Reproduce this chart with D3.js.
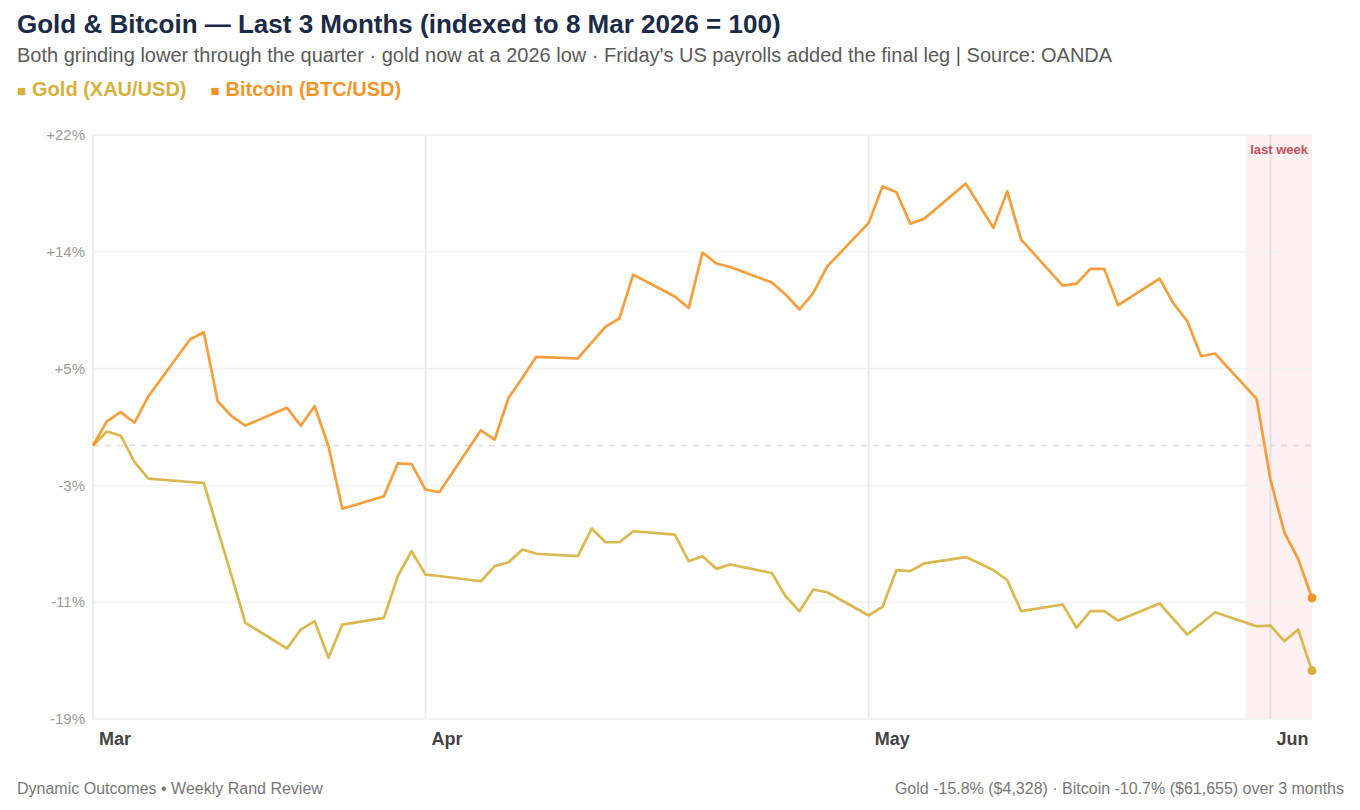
<!DOCTYPE html>
<html>
  <head>
    <meta charset="utf-8" />
    <title>Gold &amp; Bitcoin — Last 3 Months</title>
    <style>
      body {
        margin: 0;
        background: #fff;
        font-family: "Liberation Sans", Arial, Helvetica, sans-serif;
      }
      .line {
        fill: none;
        stroke-width: 2.7px;
        stroke-linejoin: round;
      }
      .grid line {
        stroke: #f1f1f1;
        stroke-width: 1.5px;
      }
      .ytick {
        font-size: 15px;
        fill: #9a9a9a;
      }
      .xtick {
        font-size: 18px;
        font-weight: bold;
        fill: #444;
      }
    </style>
  </head>
  <body>
    <svg id="chart"></svg>

    <script src="https://d3js.org/d3.v7.min.js"></script>
    <script>
      // trading days (as stamped in the feed: Sun-Thu)
      const dates = [
        "2026-03-08", "2026-03-09", "2026-03-10", "2026-03-11", "2026-03-12",
        "2026-03-15", "2026-03-16", "2026-03-17", "2026-03-18", "2026-03-19",
        "2026-03-22", "2026-03-23", "2026-03-24", "2026-03-25", "2026-03-26",
        "2026-03-29", "2026-03-30", "2026-03-31", "2026-04-01", "2026-04-02",
        "2026-04-05", "2026-04-06", "2026-04-07", "2026-04-08", "2026-04-09",
        "2026-04-12", "2026-04-13", "2026-04-14", "2026-04-15", "2026-04-16",
        "2026-04-19", "2026-04-20", "2026-04-21", "2026-04-22", "2026-04-23",
        "2026-04-26", "2026-04-27", "2026-04-28", "2026-04-29", "2026-04-30",
        "2026-05-03", "2026-05-04", "2026-05-05", "2026-05-06", "2026-05-07",
        "2026-05-10", "2026-05-11", "2026-05-12", "2026-05-13", "2026-05-14",
        "2026-05-17", "2026-05-18", "2026-05-19", "2026-05-20", "2026-05-21",
        "2026-05-24", "2026-05-25", "2026-05-26", "2026-05-27", "2026-05-28",
        "2026-05-31", "2026-06-01", "2026-06-02", "2026-06-03", "2026-06-04",
      ];

      // % change vs 8 Mar 2026
      const goldPct = [
        0, 0.98, 0.7, -1.16, -2.32,
        -2.56, -2.62, -5.9, -9.13, -12.45,
        -14.25, -12.92, -12.33, -14.9, -12.57,
        -12.1, -9.18, -7.42, -9.06, -9.16,
        -9.53, -8.47, -8.19, -7.3, -7.6,
        -7.77, -5.83, -6.79, -6.79, -6.02,
        -6.25, -8.12, -7.77, -8.66, -8.35,
        -8.95, -10.58, -11.63, -10.11, -10.3,
        -11.93, -11.32, -8.75, -8.82, -8.28,
        -7.83, -8.26, -8.75, -9.46, -11.63,
        -11.16, -12.8, -11.63, -11.63, -12.29,
        -11.09, -12.18, -13.27, -12.5, -11.7,
        -12.69, -12.64, -13.74, -12.92, -15.8,
      ];

      const btcPct = [
        0, 1.7, 2.34, 1.6, 3.46,
        7.44, 7.95, 3.11, 2.06, 1.4,
        2.65, 1.4, 2.76, -0.05, -4.44,
        -3.56, -1.26, -1.31, -3.09, -3.28,
        1.07, 0.42, 3.35, 4.76, 6.23,
        6.11, 7.23, 8.35, 8.92, 12.0,
        10.46, 9.65, 13.55, 12.78, 12.53,
        11.44, 10.6, 9.55, 10.72, 12.57,
        15.63, 18.2, 17.78, 15.58, 15.91,
        18.39, 16.85, 15.28, 17.85, 14.46,
        11.23, 11.37, 12.4, 12.4, 9.85,
        11.72, 9.97, 8.73, 6.27, 6.46,
        3.28, -2.39, -6.09, -7.96, -10.7,
      ];

      const yDomain = [-19.2, 21.8];
      const lastWeekStart = "2026-05-30T05:00";

      const seriesList = [
        { name: "Gold (XAU/USD)", values: goldPct, color: "#d4b03c" },
        { name: "Bitcoin (BTC/USD)", values: btcPct, color: "#f59426" },
      ];

      const width = 1360;
      const height = 810;
      const margin = { top: 135, right: 48, bottom: 91, left: 93 };
      const innerWidth = width - margin.left - margin.right;
      const innerHeight = height - margin.top - margin.bottom;

      const parseDate = d3.timeParse("%Y-%m-%d");
      const parseStamp = d3.timeParse("%Y-%m-%dT%H:%M");
      const days = dates.map(parseDate);

      const xScale = d3
        .scaleTime()
        .domain(d3.extent(days))
        .range([0, innerWidth]);

      const yScale = d3.scaleLinear().domain(yDomain).range([innerHeight, 0]);

      const svg = d3
        .select("#chart")
        .attr("width", width)
        .attr("height", height);

      // header
      svg
        .append("text")
        .attr("x", 17)
        .attr("y", 33)
        .style("font-size", "26px")
        .style("font-weight", "bold")
        .style("fill", "#1b2a47")
        .text("Gold & Bitcoin — Last 3 Months (indexed to 8 Mar 2026 = 100)");

      svg
        .append("text")
        .attr("x", 17)
        .attr("y", 62)
        .style("font-size", "20px")
        .style("fill", "#5a5a5a")
        .text(
          "Both grinding lower through the quarter · gold now at a 2026 low · Friday's US payrolls added the final leg | Source: OANDA"
        );

      const legend = svg.append("g");
      let lx = 17;
      seriesList.forEach((s) => {
        const t = legend
          .append("text")
          .attr("x", lx)
          .attr("y", 96)
          .style("font-size", "20px")
          .style("font-weight", "bold")
          .style("fill", s.color);
        t.append("tspan").style("font-size", "15px").text("■");
        t.append("tspan").attr("dx", 6).text(s.name);
        lx += t.node().getComputedTextLength() + 30;
      });

      const chart = svg
        .append("g")
        .attr("transform", `translate(${margin.left},${margin.top})`);

      // last-week shading
      const shadeX = xScale(parseStamp(lastWeekStart));
      chart
        .append("rect")
        .attr("x", shadeX)
        .attr("y", 0)
        .attr("width", innerWidth - shadeX)
        .attr("height", innerHeight)
        .style("fill", "#fcecee")
        .style("opacity", 0.8);

      // horizontal grid + y labels
      const yTicks = d3
        .range(6)
        .map((i) => yDomain[0] + (i * (yDomain[1] - yDomain[0])) / 5);
      const fmtPct = (v) => (v > 0 ? "+" : "") + Math.round(v) + "%";

      chart
        .append("g")
        .attr("class", "grid")
        .selectAll("line")
        .data(yTicks)
        .join("line")
        .attr("x1", 0)
        .attr("x2", innerWidth)
        .attr("y1", (d) => yScale(d))
        .attr("y2", (d) => yScale(d));

      chart
        .append("g")
        .selectAll("text")
        .data(yTicks)
        .join("text")
        .attr("class", "ytick")
        .attr("x", -8)
        .attr("y", (d) => yScale(d))
        .attr("dy", "0.35em")
        .attr("text-anchor", "end")
        .text(fmtPct);

      // month markers at the first data point of each month
      const monthStarts = days.filter(
        (d, i) => i === 0 || d.getMonth() !== days[i - 1].getMonth()
      );
      const fmtMonth = d3.timeFormat("%b");

      chart
        .append("g")
        .selectAll("line")
        .data(monthStarts)
        .join("line")
        .attr("x1", (d) => xScale(d))
        .attr("x2", (d) => xScale(d))
        .attr("y1", 0)
        .attr("y2", innerHeight)
        .style("stroke", (d) => (xScale(d) > shadeX ? "#e6dde0" : "#ececec"))
        .style("stroke-width", 2);

      chart
        .append("g")
        .selectAll("text")
        .data(monthStarts)
        .join("text")
        .attr("class", "xtick")
        .attr("x", (d) => xScale(d) + 6)
        .attr("y", innerHeight + 26)
        .text(fmtMonth);

      // baseline (index = 100)
      chart
        .append("line")
        .attr("x1", 0)
        .attr("x2", innerWidth)
        .attr("y1", yScale(0))
        .attr("y2", yScale(0))
        .style("stroke", "#dcdcdc")
        .style("stroke-width", 1.5)
        .style("stroke-dasharray", "6 6");

      chart
        .append("text")
        .attr("x", innerWidth - 4)
        .attr("y", 19)
        .attr("text-anchor", "end")
        .style("font-size", "13px")
        .style("font-weight", "bold")
        .style("fill", "#c2535d")
        .text("last week");

      // series
      const lineGenerator = d3
        .line()
        .x((d) => xScale(d.date))
        .y((d) => yScale(d.value));

      seriesList.forEach((s) => {
        const pts = days.map((d, i) => ({ date: d, value: s.values[i] }));
        chart
          .append("path")
          .datum(pts)
          .attr("class", "line")
          .attr("d", lineGenerator)
          .attr("stroke", s.color)
          .style("opacity", 0.9);

        const last = pts[pts.length - 1];
        chart
          .append("circle")
          .attr("cx", xScale(last.date))
          .attr("cy", yScale(last.value))
          .attr("r", 4.5)
          .style("fill", s.color);
      });

      // footer
      svg
        .append("text")
        .attr("x", 17)
        .attr("y", 794)
        .style("font-size", "16px")
        .style("fill", "#777")
        .text("Dynamic Outcomes • Weekly Rand Review");

      svg
        .append("text")
        .attr("x", 1344)
        .attr("y", 794)
        .attr("text-anchor", "end")
        .style("font-size", "16px")
        .style("fill", "#777")
        .text("Gold -15.8% ($4,328) · Bitcoin -10.7% ($61,655) over 3 months");
    </script>
  </body>
</html>
